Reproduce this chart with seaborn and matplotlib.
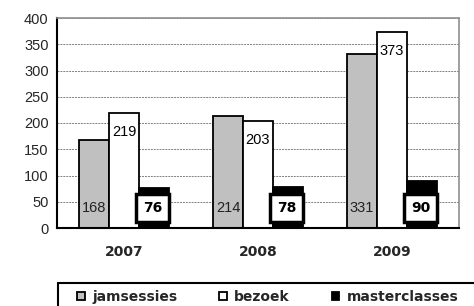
import matplotlib
matplotlib.use("Agg")
import matplotlib.pyplot as plt
from matplotlib.patches import Rectangle
import seaborn as sns
import pandas as pd

years = ["2007", "2008", "2009"]
jamsessies = [168, 214, 331]
bezoek = [219, 203, 373]
masterclasses = [76, 78, 90]
series = ["jamsessies", "bezoek", "masterclasses"]
colors = ["#C0C0C0", "#FFFFFF", "#000000"]

df = pd.DataFrame({
    "jaar": years * 3,
    "waarde": jamsessies + bezoek + masterclasses,
    "reeks": [s for s in series for _ in years],
})

sns.set_style("white")
plt.rcParams["font.family"] = ["Liberation Sans", "DejaVu Sans"]

fig = plt.figure(figsize=(4.74, 3.06), dpi=100)
ax = fig.add_axes([57 / 474, 1 - 228 / 306, (459 - 57) / 474, (228 - 18) / 306])

sns.barplot(data=df, x="jaar", y="waarde", hue="reeks", hue_order=series,
            palette=colors, width=0.67, gap=0, edgecolor="black",
            linewidth=1.3, saturation=1, ax=ax)

ax.set_ylim(0, 400)
ax.set_xlim(-0.5, 2.5)
ax.set_yticks(range(0, 401, 50))
ax.yaxis.grid(True, color="#808080", linestyle=(0, (2, 1)), linewidth=0.7)
ax.set_axisbelow(True)
ax.set_xlabel("")
ax.set_ylabel("")

# category boundaries as major ticks, year labels as minor ticks
ax.set_xticks([-0.5, 0.5, 1.5, 2.5])
ax.set_xticklabels([])
ax.set_xticks([0, 1, 2], minor=True)
ax.set_xticklabels(years, minor=True, fontsize=10, fontweight="bold",
                   family="DejaVu Sans")
ax.tick_params(axis="x", which="major", length=5, width=1.3, color="black")
ax.tick_params(axis="x", which="minor", length=0, pad=12)
ax.tick_params(axis="y", length=4, width=1.3, color="black", labelsize=10.5, pad=2)

for side in ["top", "right"]:
    ax.spines[side].set_color("#909090")
    ax.spines[side].set_linewidth(1.2)
for side in ["left", "bottom"]:
    ax.spines[side].set_color("black")
    ax.spines[side].set_linewidth(1.5)

# data labels
offs = 0.67 / 3
for i in range(len(years)):
    ax.text(i - offs, 38, str(jamsessies[i]), ha="center", va="center",
            fontsize=10.5, color="#222222")
    ax.text(i, bezoek[i] - 36, str(bezoek[i]), ha="center", va="center",
            fontsize=10.5, color="black")
    ax.text(i + offs - 0.01, 38, str(masterclasses[i]), ha="center", va="center",
            fontsize=10, fontweight="bold", color="black", family="DejaVu Sans",
            bbox=dict(boxstyle="square,pad=0.5", fc="white", ec="black", lw=2.5))

handles, labels = ax.get_legend_handles_labels()
ax.get_legend().remove()
fig.legend(handles, labels, loc="center left", ncol=3,
           bbox_to_anchor=(77 / 474, 1 - 297 / 306), frameon=False,
           prop={"weight": "bold", "size": 10, "family": "DejaVu Sans"},
           handlelength=0.55, handleheight=0.55, handletextpad=0.55,
           columnspacing=3.0, borderaxespad=0, borderpad=0)
fig.add_artist(Rectangle((58 / 474, -0.1), 1.0, 0.1 + (306 - 283) / 306,
                         transform=fig.transFigure, fill=False,
                         ec="black", lw=1.5))

fig.savefig("out.png", dpi=100)
